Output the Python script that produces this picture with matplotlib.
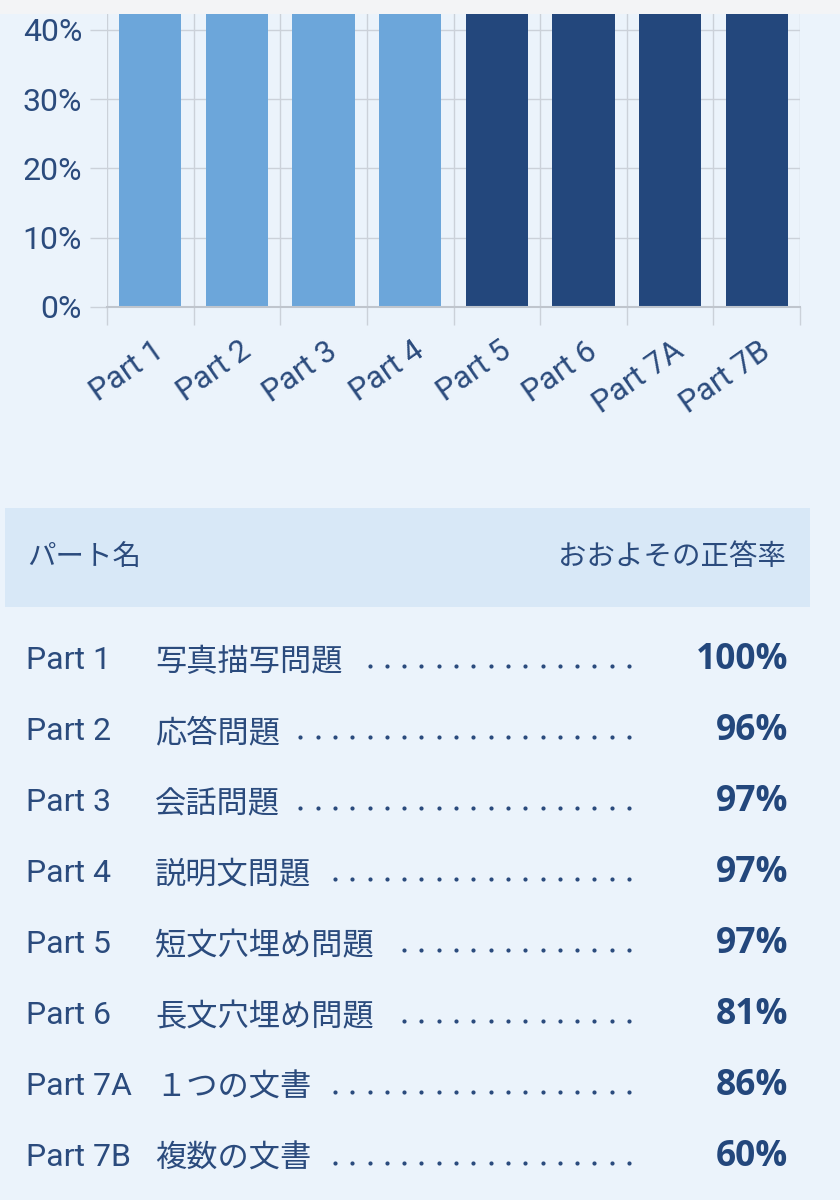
import numpy as np
import matplotlib.pyplot as plt
from matplotlib.patches import Rectangle
from matplotlib.transforms import ScaledTranslation

# data
parts = ['Part 1', 'Part 2', 'Part 3', 'Part 4', 'Part 5', 'Part 6', 'Part 7A', 'Part 7B']
names = ['写真描写問題', '応答問題', '会話問題', '説明文問題', '短文穴埋め問題',
         '長文穴埋め問題', '１つの文書', '複数の文書']
rates = [100, 96, 97, 97, 97, 81, 86, 60]
section = ['L', 'L', 'L', 'L', 'R', 'R', 'R', 'R']  # listening / reading
yticks = [0, 10, 20, 30, 40]

bg = '#EBF3FB'
light = '#6CA6DA'
dark = '#23477C'
txt = '#2B4B7D'
grid_c = '#CBD1D9'

W, H = 840, 1200
fig = plt.figure(figsize=(W / 100, H / 100), dpi=100, facecolor=bg)

# top strip of the page
fig.patches.append(Rectangle((0, 1 - 14 / H), 1, 14 / H, transform=fig.transFigure,
                             facecolor='#F3F4F6', edgecolor='none', zorder=-1))

# ---- bar chart (only the lower part of it is visible) ----
ax = fig.add_axes([107 / W, 1 - 307 / H, (800 - 107) / W, (307 - 14) / H])
ax.set_facecolor(bg)
x = np.arange(len(parts))
cols = [light if s == 'L' else dark for s in section]
ax.bar(x, rates, width=0.72, color=cols, zorder=2)
ax.set_xlim(-0.5, len(parts) - 0.5)
ax.set_ylim(0, 42.3)

ax.set_yticks(yticks)
ax.set_yticklabels([f'{v}%' for v in yticks], family='Roboto', fontsize=23, color=txt)
ax.tick_params(axis='y', length=12, width=1, color=grid_c, pad=6)

ax.set_xticks(x)
ax.set_xticklabels(parts, family='Roboto', fontsize=22.5, color=txt, rotation=35, ha='right')
ax.set_xticks(np.arange(len(parts) + 1) - 0.5, minor=True)
ax.tick_params(axis='x', which='major', length=0, pad=21)
ax.tick_params(axis='x', which='minor', length=13, width=1, color=grid_c)
off = ScaledTranslation(19 / 100, 0, fig.dpi_scale_trans)
for lab in ax.get_xticklabels():
    lab.set_transform(lab.get_transform() + off)

ax.grid(axis='y', which='major', color=grid_c, lw=1, zorder=0)
ax.grid(axis='x', which='minor', color=grid_c, lw=1, zorder=0)
for s in ['top', 'right', 'left']:
    ax.spines[s].set_visible(False)
ax.spines['bottom'].set_color('#BFC5CD')
ax.spines['bottom'].set_linewidth(1.5)
ax.spines['bottom'].set_zorder(3)

# ---- table below ----
tb = fig.add_axes([0, 0, 1, 1 - 490 / H])
tb.set_xlim(0, W)
tb.set_ylim(H, 490)
tb.axis('off')
tb.add_patch(Rectangle((5, 508), 805, 99, facecolor='#D8E8F7', edgecolor='none'))
tb.text(27, 557, 'パート名', family=['Noto Sans CJK JP'], fontsize=20.5, color=txt,
        va='center', ha='left')
tb.text(786, 557, 'おおよその正答率', family=['Noto Sans CJK JP'], fontsize=20.5, color=txt,
        va='center', ha='right')

fig.canvas.draw()
renderer = fig.canvas.get_renderer()
inv = tb.transData.inverted()
for i, (p, n, r) in enumerate(zip(parts, names, rates)):
    yb = 669 + i * 71
    tb.text(26, yb, p, family=['Roboto'], fontsize=23, color=txt, va='baseline')
    t = tb.text(155, yb + 2, n, family=['Noto Sans CJK JP', 'DejaVu Sans'], fontsize=22.5,
                color=txt, va='baseline')
    tb.text(788, yb, f'{r}%', family=['Open Sans'], fontweight='bold', fontsize=25.5,
            color=dark, va='baseline', ha='right')
    ext = t.get_window_extent(renderer)
    name_end = inv.transform((ext.x1, ext.y0))[0]
    dx = []
    xd = 629.0
    while xd > name_end + 14:
        dx.append(xd)
        xd -= 17.3
    tb.scatter(dx, [yb - 3] * len(dx), s=9, color=txt, lw=0)

fig.savefig('out.png', dpi=100, facecolor=bg)
